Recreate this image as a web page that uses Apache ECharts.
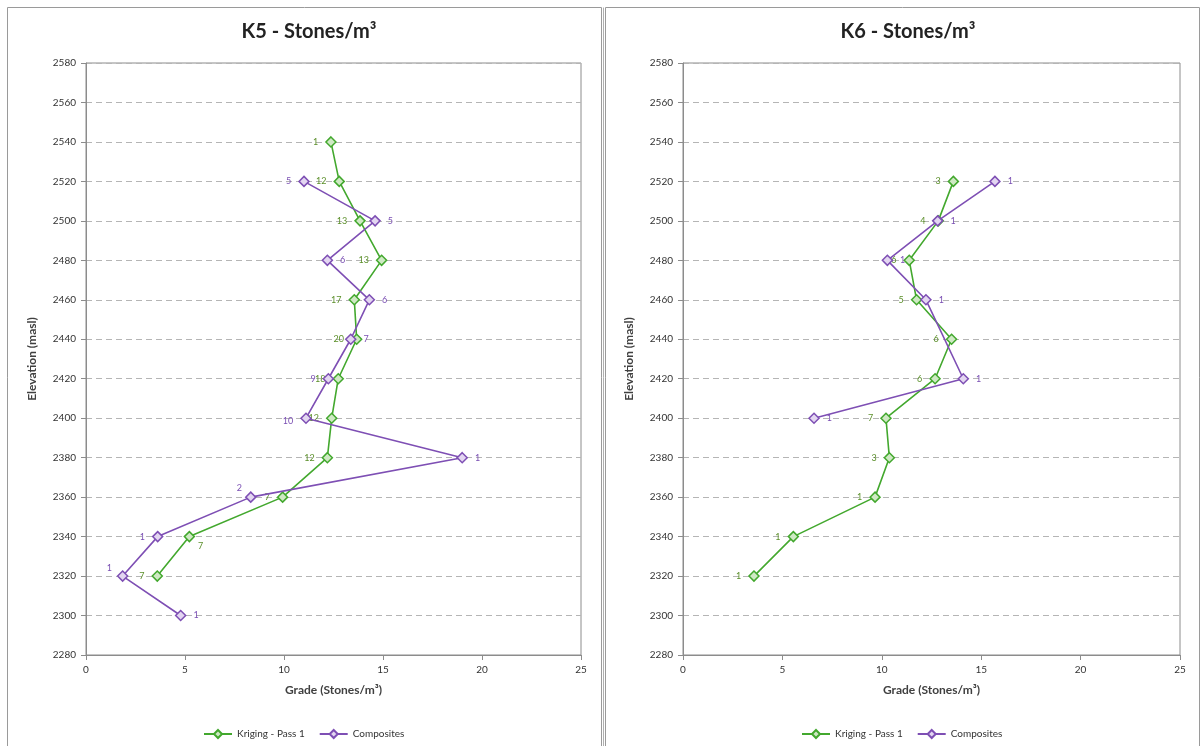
<!DOCTYPE html>
<html>
<head>
<meta charset="utf-8">
<script src="https://cdn.jsdelivr.net/npm/echarts@6/dist/echarts.min.js"></script>
<style>
html,body{margin:0;padding:0;background:#fff;}
#c{width:1203px;height:746px;}
</style>
</head>
<body>
<div id="c"></div>
<script>
// ---- data ----
const elevTicks = [2280, 2580, 20];
const gradeTicks = [0, 25, 5];

const k5KrigElev  = [2540,2520,2500,2480,2460,2440,2420,2400,2380,2360,2340,2320];
const k5KrigGrade = [12.37,12.79,13.84,14.93,13.55,13.67,12.74,12.41,12.19,9.93,5.22,3.60];
const k5KrigCount = [1,12,13,13,17,20,18,12,12,7,7,7];

const k5CompElev  = [2520,2500,2480,2460,2440,2420,2400,2380,2360,2340,2320,2300];
const k5CompGrade = [11.01,14.60,12.19,14.31,13.37,12.24,11.11,19.00,8.32,3.62,1.85,4.78];
const k5CompCount = [5,5,6,6,7,9,10,1,2,1,1,1];

const k6KrigElev  = [2520,2500,2480,2460,2440,2420,2400,2380,2360,2340,2320];
const k6KrigGrade = [13.60,12.84,11.38,11.75,13.51,12.68,10.21,10.38,9.66,5.55,3.57];
const k6KrigCount = [3,4,6,5,6,6,7,3,1,1,1];

const k6CompElev  = [2520,2500,2480,2460,2420,2400];
const k6CompGrade = [15.69,12.81,10.28,12.22,14.10,6.59];
const k6CompCount = [1,1,1,1,1,1];

const titles = ['K5 - Stones/m³', 'K6 - Stones/m³'];
const seriesNames = ['Kriging - Pass 1', 'Composites'];
const xName = 'Grade (Stones/m³)';
const yName = 'Elevation (masl)';

// ---- styling ----
const FONT = 'Lato, "Open Sans", sans-serif';
const GREEN = '#43a82e', GREEN_FILL = '#cfe9c4', GREEN_TXT = '#5b8f2a';
const PURPLE = '#7e4fb4', PURPLE_FILL = '#e3d6f1', PURPLE_TXT = '#7a4fb3';

// label placement overrides (style only)
const labelOverrides = {
  k5Krig: {2340: {position: 'right', offset: [-4, 9]}},
  k5Comp: {2520: {position: 'left'}, 2420: {position: 'left'}, 2400: {position: 'left', offset: [0, 3]},
           2360: {position: 'left', offset: [4, -9]}, 2340: {position: 'left'}, 2320: {position: 'left', offset: [2, -8]}},
  k6Krig: {},
  k6Comp: {}
};

function makeSeries(name, key, elev, grade, count, idx, color, fill, txt, defPos) {
  const ov = labelOverrides[key];
  return {
    type: 'line', name: name, xAxisIndex: idx, yAxisIndex: idx,
    symbol: 'diamond', symbolSize: 10,
    lineStyle: {color: color, width: 1.6},
    itemStyle: {color: fill, borderColor: color, borderWidth: 1.5},
    z: name === seriesNames[1] ? 3 : 2,
    data: elev.map((e, i) => {
      const lab = Object.assign({position: defPos, distance: 7}, ov[e] || {});
      return {value: [grade[i], e], label: lab, cnt: count[i]};
    }),
    label: {show: true, fontSize: 9, fontFamily: FONT, color: txt,
            formatter: p => String(p.data.cnt)},
    emphasis: {disabled: true}
  };
}

const gridLeft = [86, 683];
const gridWidth = [495, 497];
const panelCenter = [304, 903];

const grids = [], xAxes = [], yAxes = [], titleArr = [], legends = [];
for (let i = 0; i < 2; i++) {
  grids.push({left: gridLeft[i], top: 63, width: gridWidth[i], height: 592,
              show: true, borderColor: '#8c8c8c', borderWidth: 1, backgroundColor: 'transparent'});
  xAxes.push({
    type: 'value', gridIndex: i, min: gradeTicks[0], max: gradeTicks[1], interval: gradeTicks[2],
    name: xName, nameLocation: 'middle', nameGap: 29,
    nameTextStyle: {fontFamily: FONT, fontSize: 12, fontWeight: 'bold', color: '#404040'},
    axisLine: {show: true, onZero: false, lineStyle: {color: '#8c8c8c'}},
    axisTick: {show: true, length: 5, lineStyle: {color: '#8c8c8c'}},
    axisLabel: {fontFamily: FONT, fontSize: 10, color: '#333', margin: 10, formatter: v => String(v)},
    splitLine: {show: false}
  });
  yAxes.push({
    type: 'value', gridIndex: i, min: elevTicks[0], max: elevTicks[1], interval: elevTicks[2],
    name: yName, nameLocation: 'middle', nameGap: 48, nameRotate: 90,
    nameTextStyle: {fontFamily: FONT, fontSize: 12, fontWeight: 'bold', color: '#404040'},
    axisLine: {show: true, lineStyle: {color: '#8c8c8c'}},
    axisTick: {show: true, length: 5, lineStyle: {color: '#8c8c8c'}},
    axisLabel: {fontFamily: FONT, fontSize: 10, color: '#333', margin: 10, formatter: v => String(v)},
    splitLine: {show: true, lineStyle: {color: '#b5b5b5', type: [6, 4], width: 1}}
  });
  titleArr.push({text: titles[i], left: panelCenter[i], top: 17, textAlign: 'center',
                 textStyle: {fontFamily: FONT, fontSize: 20, fontWeight: 'bold', color: '#222'}});
  legends.push({
    data: seriesNames, top: 724, orient: 'horizontal',
    itemWidth: 28, itemHeight: 10, itemGap: 14, selectedMode: false,
    textStyle: {fontFamily: FONT, fontSize: 10, color: '#333'}
  });
}
legends[0].left = 198; legends[1].left = 796;

const option = {
  animation: false,
  backgroundColor: '#fff',
  title: titleArr,
  legend: legends,
  grid: grids,
  xAxis: xAxes,
  yAxis: yAxes,
  graphic: [
    {type: 'rect', shape: {x: 7.5, y: 7.5, width: 594, height: 760}, style: {fill: 'none', stroke: '#9a9a9a', lineWidth: 1}, silent: true},
    {type: 'line', shape: {x1: 603.5, y1: 7.5, x2: 603.5, y2: 760}, style: {stroke: '#b0b0b0', lineWidth: 1}, silent: true},
    {type: 'rect', shape: {x: 605.5, y: 7.5, width: 594, height: 760}, style: {fill: 'none', stroke: '#9a9a9a', lineWidth: 1}, silent: true}
  ],
  series: [
    makeSeries(seriesNames[0], 'k5Krig', k5KrigElev, k5KrigGrade, k5KrigCount, 0, GREEN, GREEN_FILL, GREEN_TXT, 'left'),
    makeSeries(seriesNames[1], 'k5Comp', k5CompElev, k5CompGrade, k5CompCount, 0, PURPLE, PURPLE_FILL, PURPLE_TXT, 'right'),
    makeSeries(seriesNames[0], 'k6Krig', k6KrigElev, k6KrigGrade, k6KrigCount, 1, GREEN, GREEN_FILL, GREEN_TXT, 'left'),
    makeSeries(seriesNames[1], 'k6Comp', k6CompElev, k6CompGrade, k6CompCount, 1, PURPLE, PURPLE_FILL, PURPLE_TXT, 'right')
  ]
};

const chart = echarts.init(document.getElementById('c'), null, {renderer: 'canvas'});
chart.setOption(option);
</script>
</body>
</html>
